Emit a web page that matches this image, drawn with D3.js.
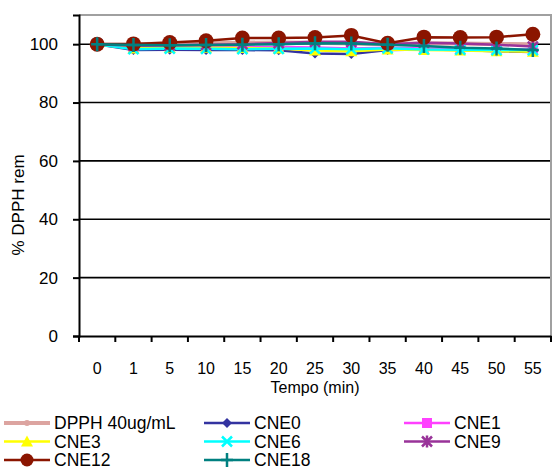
<!DOCTYPE html>
<html><head><meta charset="utf-8">
<script src="https://cdn.jsdelivr.net/npm/d3@7"></script>
<style>body{margin:0;background:#fff}svg{display:block}text{font-family:"Liberation Sans",Arial,sans-serif}</style>
</head><body><svg id="c" width="554" height="470"></svg>
<script>
const categories = ["0","1","5","10","15","20","25","30","35","40","45","50","55"];
const yTicks = [0,20,40,60,80,100];
const seriesNames = ["DPPH 40ug/mL","CNE0","CNE1","CNE3","CNE6","CNE9","CNE12","CNE18"];
const dpph  = [100,100,100.2,100.3,100.5,100.6,100.5,100.2,100,100.3,100.2,100.1,100];
const cne0  = [100,98,98.1,98,98,97.9,96.8,96.6,98,98.2,98,97.6,97.3];
const cne1  = [100,99,99.2,99.2,99,99,98.9,98.5,98.8,98.5,98.5,98.3,98.2];
const cne3  = [100,98.5,98.8,98.8,98.7,98.5,97.8,97.6,98.2,98,97.8,97.6,97.4];
const cne6  = [100,98.3,98.5,98.4,98.3,98.4,98.5,98.3,98.6,98.2,98.1,98,98];
const cne9  = [100,99.5,99.6,99.8,100,100.4,100.8,100.8,100,100.5,100.2,99.8,99.2];
const cne12 = [100,100.1,100.6,101.2,102.1,102.1,102.3,103,100.3,102.4,102.3,102.4,103.4];
const cne18 = [100,99.7,99.6,99.7,99.8,100,100.3,100.2,99.8,99.4,98.8,98.5,98];
const seriesValues = [dpph,cne0,cne1,cne3,cne6,cne9,cne12,cne18];
const colors = ["#DCA4A0","#3333A0","#FF40FF","#FFFF00","#00FFFF","#993399","#8B1500","#008080"];
const markers = ["dot","diamond","square","triangle","x","star","circle","plus"];

const svg = d3.select("#c");
const L=79,R=551,T=15,B=336;
const x = d3.scaleBand().domain(categories).range([L,R]);
const y = d3.scaleLinear().domain([0,110]).range([B,T]);
const fs = 17, fx = 16;

// gridlines
svg.append("g").selectAll("line").data(yTicks.filter(d=>d>0)).join("line")
  .attr("x1",L).attr("x2",R).attr("y1",d=>y(d)).attr("y2",d=>y(d))
  .attr("stroke","#000").attr("stroke-width",1.6);
// border top/right
svg.append("path").attr("d",`M${L},${T}H${R}V${B}`).attr("fill","none").attr("stroke","#a0a0a0").attr("stroke-width",2);

// axes
const ya = svg.append("g").attr("transform",`translate(${L},0)`)
  .call(d3.axisLeft(y).tickValues(yTicks).tickSize(6).tickPadding(15));
ya.select(".domain").attr("stroke","#000").attr("stroke-width",2);
ya.selectAll(".tick line").attr("stroke","#000").attr("stroke-width",2);
ya.selectAll("text").attr("font-size",fs).attr("fill","#000").style("font-family","Liberation Sans, Arial");

const xa = svg.append("g").attr("transform",`translate(0,${B})`)
  .call(d3.axisBottom(x).tickSize(0).tickPadding(27));
xa.select(".domain").attr("stroke","#000").attr("stroke-width",2);
xa.selectAll("text").attr("font-size",fx).attr("fill","#000").style("font-family","Liberation Sans, Arial");
// tick marks at category boundaries
const bounds = categories.map(c=>x(c)).concat([R]);
svg.append("g").selectAll("line").data(bounds).join("line")
  .attr("x1",d=>d).attr("x2",d=>d).attr("y1",B).attr("y2",B+6)
  .attr("stroke","#000").attr("stroke-width",2);

svg.append("text").attr("x",(L+R)/2).attr("y",393).attr("text-anchor","middle")
  .attr("font-size",fx).text("Tempo (min)");
svg.append("text").attr("transform",`translate(24,205) rotate(-90)`).attr("text-anchor","middle")
  .attr("font-size",fs).text("% DPPH rem");

function drawMarker(g, type, color, cx, cy, legend){
  switch(type){
    case "dot": g.append("circle").attr("cx",cx).attr("cy",cy).attr("r",3).attr("fill",color); break;
    case "circle": g.append("circle").attr("cx",cx).attr("cy",cy).attr("r",legend?6.5:7.5).attr("fill",color); break;
    case "diamond": g.append("path").attr("d",`M${cx},${cy-5}L${cx+5},${cy}L${cx},${cy+5}L${cx-5},${cy}Z`).attr("fill",color); break;
    case "square": g.append("rect").attr("x",cx-5).attr("y",cy-5).attr("width",10).attr("height",10).attr("fill",color); break;
    case "triangle": g.append("path").attr("d",`M${cx},${cy-6}L${cx+6},${cy+5}L${cx-6},${cy+5}Z`).attr("fill",color); break;
    case "x": g.append("path").attr("d",`M${cx-5},${cy-5}L${cx+5},${cy+5}M${cx-5},${cy+5}L${cx+5},${cy-5}`).attr("stroke",color).attr("stroke-width",2.5); break;
    case "star": g.append("path").attr("d",`M${cx-5},${cy-5}L${cx+5},${cy+5}M${cx-5},${cy+5}L${cx+5},${cy-5}M${cx},${cy-6}L${cx},${cy+6}`).attr("stroke",color).attr("stroke-width",2.5); break;
    case "plus": g.append("path").attr("d",`M${cx-6},${cy}L${cx+6},${cy}M${cx},${cy-7}L${cx},${cy+7}`).attr("stroke",color).attr("stroke-width",2.5); break;
  }
}

const line = d3.line().x((d,i)=>x(categories[i])+x.bandwidth()/2).y(d=>y(d));
seriesValues.forEach((vals,k)=>{
  const g = svg.append("g");
  g.append("path").attr("d",line(vals)).attr("fill","none").attr("stroke",colors[k])
    .attr("stroke-width",k===0?4:2.5);
  vals.forEach((v,i)=>drawMarker(g,markers[k],colors[k],x(categories[i])+x.bandwidth()/2,y(v),false));
});

// legend
const colX=[4,204,404], rowY=[423,441.5,460];
seriesNames.forEach((n,k)=>{
  const cx=colX[k%3], cy=rowY[Math.floor(k/3)];
  const g=svg.append("g");
  g.append("line").attr("x1",cx).attr("x2",cx+46).attr("y1",cy).attr("y2",cy)
    .attr("stroke",colors[k]).attr("stroke-width",k===0?4:2.5);
  drawMarker(g,markers[k],colors[k],cx+23,cy,true);
  g.append("text").attr("x",cx+50).attr("y",cy).attr("dy","0.35em").attr("font-size",17.5).text(n);
});
</script></body></html>
